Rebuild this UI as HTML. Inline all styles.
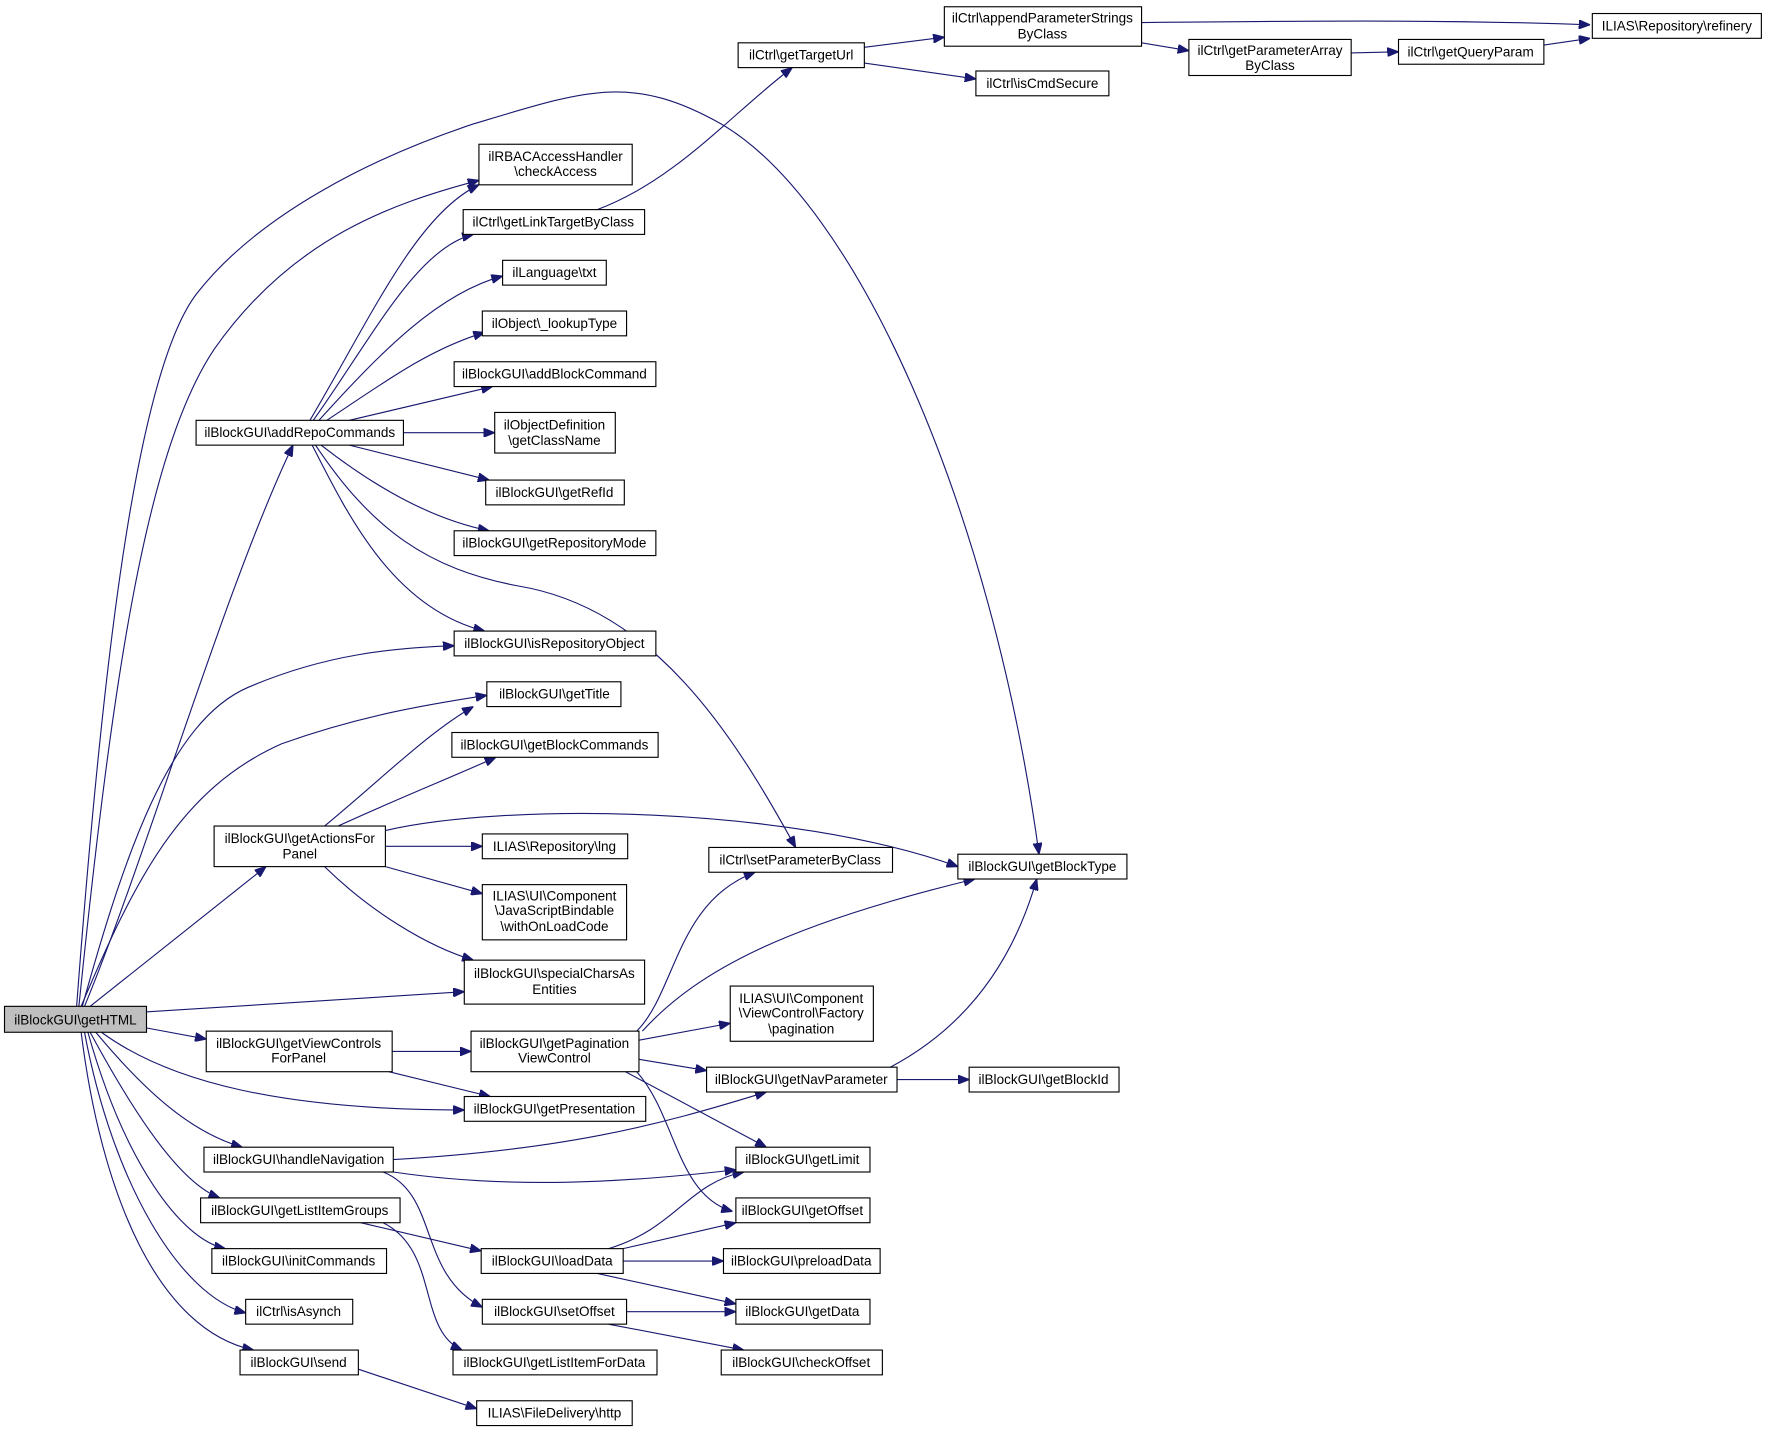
<!DOCTYPE html>
<html><head><meta charset="utf-8"><style>
html,body{margin:0;padding:0;background:#fff;}
svg{display:block;}
text{font-family:"Liberation Sans",Arial,sans-serif;font-size:12px;fill:#000;text-anchor:middle;}
.n{fill:#fff;stroke:#000;stroke-width:1;}
.e{fill:none;stroke:#191970;stroke-width:1;marker-end:url(#a);}
</style></head><body>
<svg width="1767" height="1433" viewBox="0 0 1568 1271.6" preserveAspectRatio="none" xmlns="http://www.w3.org/2000/svg">
<defs><marker id="a" markerWidth="10" markerHeight="8" refX="10" refY="4" orient="auto" markerUnits="userSpaceOnUse"><path d="M0,0 L10,4 L0,8 z" fill="#191970" stroke="#191970"/></marker></defs>
<rect width="1568" height="1272" fill="#fff"/>
<!-- edges -->
<path class="e" d="M68,893 C90,600 120,330 175,260 C230,190 330,140 420,110 C520,80 560,65 640,110 C760,180 880,450 922,758"/>
<path class="e" d="M70,893 C100,600 130,400 190,310 C260,210 350,180 425,160"/>
<path class="e" d="M75,893 C130,760 200,520 260,395"/>
<path class="e" d="M73,893 C110,760 150,640 220,610 C290,580 350,575 403,573"/>
<path class="e" d="M72,893 C120,780 160,700 250,660 C320,635 380,625 432,617"/>
<path class="e" d="M80,893 L236,769"/>
<path class="e" d="M129,898 L412,880"/>
<path class="e" d="M129,912 L183,922"/>
<path class="e" d="M90,916 C150,960 250,985 412,985"/>
<path class="e" d="M85,916 C130,970 170,1005 215,1018"/>
<path class="e" d="M80,916 C120,990 160,1050 195,1063"/>
<path class="e" d="M78,916 C110,1030 160,1100 200,1108"/>
<path class="e" d="M75,916 C100,1050 160,1150 218,1165"/>
<path class="e" d="M72,916 C90,1060 140,1180 225,1198"/>
<path class="e" d="M275,373 C330,280 370,190 425,164"/>
<path class="e" d="M278,373 C330,300 370,220 420,208"/>
<path class="e" d="M283,373 C340,310 390,260 446,245"/>
<path class="e" d="M290,373 C340,340 380,310 430,295"/>
<path class="e" d="M310,373 L437,343"/>
<path class="e" d="M358,384 L439,384"/>
<path class="e" d="M310,395 L434,426"/>
<path class="e" d="M285,395 C330,430 380,460 434,471"/>
<path class="e" d="M277,395 C310,460 350,540 430,560"/>
<path class="e" d="M280,395 C330,470 380,505 460,520 C580,540 650,650 706,752"/>
<path class="e" d="M530,186 C600,160 650,100 703,60"/>
<path class="e" d="M767,42 L838,33"/>
<path class="e" d="M767,56 L866,70"/>
<path class="e" d="M1013,20 C1200,18 1300,18 1411,22"/>
<path class="e" d="M1013,38 L1055,45"/>
<path class="e" d="M1199,47 L1241,46"/>
<path class="e" d="M1370,40 L1411,34"/>
<path class="e" d="M288,733 C340,690 380,650 420,627"/>
<path class="e" d="M300,733 C350,710 400,690 440,672"/>
<path class="e" d="M342,737 C450,712 700,715 850,769"/>
<path class="e" d="M342,751 L428,751"/>
<path class="e" d="M342,769 L428,793"/>
<path class="e" d="M288,769 C330,810 380,840 420,852"/>
<path class="e" d="M348,933 L418,933"/>
<path class="e" d="M345,951 L435,973"/>
<path class="e" d="M565,915 C600,880 600,800 670,774"/>
<path class="e" d="M570,915 C620,860 700,820 865,780"/>
<path class="e" d="M567,923 L648,908"/>
<path class="e" d="M567,940 L627,950"/>
<path class="e" d="M555,951 L680,1018"/>
<path class="e" d="M565,951 C600,990 600,1060 650,1075"/>
<path class="e" d="M790,947 C860,910 900,850 920,780"/>
<path class="e" d="M796,958 L860,958"/>
<path class="e" d="M349,1029 C500,1020 580,1000 680,969"/>
<path class="e" d="M349,1040 C450,1055 550,1050 653,1038"/>
<path class="e" d="M340,1040 C390,1060 370,1130 428,1160"/>
<path class="e" d="M320,1085 L427,1110"/>
<path class="e" d="M340,1085 C390,1110 370,1180 410,1198"/>
<path class="e" d="M540,1108 C600,1090 610,1050 660,1040"/>
<path class="e" d="M553,1108 L653,1085"/>
<path class="e" d="M553,1119 L642,1119"/>
<path class="e" d="M530,1130 L653,1157"/>
<path class="e" d="M556,1164 L653,1164"/>
<path class="e" d="M540,1175 L660,1198"/>
<path class="e" d="M318,1215 L423,1250"/>
<!-- nodes -->
<rect x="4" y="893" width="126" height="23" fill="#bfbfbf" stroke="#000"/><text x="67" y="909">ilBlockGUI\getHTML</text>
<rect class="n" x="174" y="373" width="184" height="22"/><text x="266" y="388">ilBlockGUI\addRepoCommands</text>
<rect class="n" x="425" y="128" width="136" height="36"/><text x="493" y="143">ilRBACAccessHandler</text><text x="493" y="156">\checkAccess</text>
<rect class="n" x="411" y="186" width="161" height="22"/><text x="491" y="201">ilCtrl\getLinkTargetByClass</text>
<rect class="n" x="446" y="231" width="92" height="22"/><text x="492" y="246">ilLanguage\txt</text>
<rect class="n" x="428" y="276" width="128" height="22"/><text x="492" y="291">ilObject\_lookupType</text>
<rect class="n" x="403" y="321" width="179" height="22"/><text x="492" y="336">ilBlockGUI\addBlockCommand</text>
<rect class="n" x="439" y="366" width="107" height="36"/><text x="492" y="381">ilObjectDefinition</text><text x="492" y="395">\getClassName</text>
<rect class="n" x="431" y="426" width="123" height="22"/><text x="492" y="441">ilBlockGUI\getRefId</text>
<rect class="n" x="403" y="471" width="179" height="22"/><text x="492" y="486">ilBlockGUI\getRepositoryMode</text>
<rect class="n" x="403" y="560" width="179" height="22"/><text x="492" y="575">ilBlockGUI\isRepositoryObject</text>
<rect class="n" x="432" y="605" width="119" height="22"/><text x="492" y="620">ilBlockGUI\getTitle</text>
<rect class="n" x="401" y="650" width="183" height="22"/><text x="492" y="665">ilBlockGUI\getBlockCommands</text>
<rect class="n" x="190" y="733" width="152" height="36"/><text x="266" y="748">ilBlockGUI\getActionsFor</text><text x="266" y="762">Panel</text>
<rect class="n" x="428" y="740" width="129" height="22"/><text x="492" y="755">ILIAS\Repository\lng</text>
<rect class="n" x="428" y="785" width="128" height="49"/><text x="492" y="799">ILIAS\UI\Component</text><text x="492" y="812">\JavaScriptBindable</text><text x="492" y="826">\withOnLoadCode</text>
<rect class="n" x="412" y="852" width="160" height="39"/><text x="492" y="868">ilBlockGUI\specialCharsAs</text><text x="492" y="882">Entities</text>
<rect class="n" x="183" y="915" width="165" height="36"/><text x="265" y="930">ilBlockGUI\getViewControls</text><text x="265" y="943">ForPanel</text>
<rect class="n" x="418" y="915" width="149" height="36"/><text x="492" y="930">ilBlockGUI\getPagination</text><text x="492" y="943">ViewControl</text>
<rect class="n" x="412" y="973" width="161" height="22"/><text x="492" y="988">ilBlockGUI\getPresentation</text>
<rect class="n" x="181" y="1018" width="168" height="22"/><text x="265" y="1033">ilBlockGUI\handleNavigation</text>
<rect class="n" x="178" y="1063" width="177" height="22"/><text x="266" y="1078">ilBlockGUI\getListItemGroups</text>
<rect class="n" x="188" y="1108" width="155" height="22"/><text x="265" y="1123">ilBlockGUI\initCommands</text>
<rect class="n" x="218" y="1153" width="95" height="22"/><text x="265" y="1168">ilCtrl\isAsynch</text>
<rect class="n" x="213" y="1198" width="105" height="22"/><text x="265" y="1213">ilBlockGUI\send</text>
<rect class="n" x="423" y="1243" width="138" height="22"/><text x="492" y="1258">ILIAS\FileDelivery\http</text>
<rect class="n" x="427" y="1108" width="126" height="22"/><text x="490" y="1123">ilBlockGUI\loadData</text>
<rect class="n" x="428" y="1153" width="128" height="22"/><text x="492" y="1168">ilBlockGUI\setOffset</text>
<rect class="n" x="402" y="1198" width="181" height="22"/><text x="492" y="1213">ilBlockGUI\getListItemForData</text>
<rect class="n" x="655" y="38" width="112" height="22"/><text x="711" y="53">ilCtrl\getTargetUrl</text>
<rect class="n" x="838" y="6" width="175" height="35"/><text x="925" y="20">ilCtrl\appendParameterStrings</text><text x="925" y="34">ByClass</text>
<rect class="n" x="866" y="63" width="118" height="22"/><text x="925" y="78">ilCtrl\isCmdSecure</text>
<rect class="n" x="1055" y="35" width="144" height="32"/><text x="1127" y="49">ilCtrl\getParameterArray</text><text x="1127" y="62">ByClass</text>
<rect class="n" x="1241" y="35" width="129" height="22"/><text x="1305" y="50">ilCtrl\getQueryParam</text>
<rect class="n" x="1413" y="12" width="150" height="22"/><text x="1488" y="27">ILIAS\Repository\refinery</text>
<rect class="n" x="629" y="752" width="163" height="22"/><text x="710" y="767">ilCtrl\setParameterByClass</text>
<rect class="n" x="850" y="758" width="150" height="22"/><text x="925" y="773">ilBlockGUI\getBlockType</text>
<rect class="n" x="648" y="875" width="127" height="49"/><text x="711" y="890">ILIAS\UI\Component</text><text x="711" y="903">\ViewControl\Factory</text><text x="711" y="917">\pagination</text>
<rect class="n" x="627" y="947" width="169" height="22"/><text x="711" y="962">ilBlockGUI\getNavParameter</text>
<rect class="n" x="860" y="947" width="133" height="22"/><text x="926" y="962">ilBlockGUI\getBlockId</text>
<rect class="n" x="653" y="1018" width="119" height="22"/><text x="712" y="1033">ilBlockGUI\getLimit</text>
<rect class="n" x="653" y="1063" width="119" height="22"/><text x="712" y="1078">ilBlockGUI\getOffset</text>
<rect class="n" x="642" y="1108" width="139" height="22"/><text x="711" y="1123">ilBlockGUI\preloadData</text>
<rect class="n" x="653" y="1153" width="119" height="22"/><text x="712" y="1168">ilBlockGUI\getData</text>
<rect class="n" x="640" y="1198" width="143" height="22"/><text x="711" y="1213">ilBlockGUI\checkOffset</text>
</svg>
</body></html>
